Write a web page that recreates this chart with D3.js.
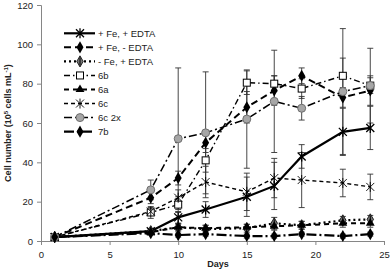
<!DOCTYPE html>
<html><head><meta charset="utf-8">
<script src="https://cdn.jsdelivr.net/npm/d3@7"></script>
<style>body{margin:0;background:#fff}svg{display:block}text{font-family:"Liberation Sans",Arial,sans-serif}</style>
</head><body>
<svg id="c" width="392" height="270"></svg>
<script>
const days = [1, 8, 10, 12, 15, 17, 19, 22, 24];
const xTicks = [0, 5, 10, 15, 20, 25];
const yTicks = [0, 20, 40, 60, 80, 100, 120];
const seriesNames = ["+ Fe, + EDTA", "+ Fe, - EDTA", "- Fe, + EDTA", "6b", "6a", "6c", "6c 2x", "7b"];
const vFePlusEdtaPlus  = [2, 5, 12, 16, 22.5, 28, 43, 55.5, 57.5];
const vFePlusEdtaMinus = [2, 22, 32, 50, 68, 76.5, 84, 73, 76.5];
const vFeMinusEdtaPlus = [2, 5, 7, 6, 6.5, 9, 8, 10.5, 11];
const v6b   = [2, 14.5, 18.5, 41, 80.5, 80, 77.5, 84, 79];
const v6a   = [2, 4.5, 7, 6.5, 7, 7.5, 8, 9, 9];
const v6c   = [2, 15, 22, 30, 25, 32, 31, 29.5, 27.5];
const v6c2x = [2, 26, 52, 55, 62, 71, 67.5, 76, 79];
const v7b   = [2, 4, 3, 3.5, 2.5, 2.5, 3.5, 2.5, 3.5];
const eFePlusEdtaPlus  = [0.5, 1, 3, 4, 10, 12, 6, 12, 11];
const eFePlusEdtaMinus = [0.5, 3, 3.5, 5, 8, 7.5, 4, 5, 7.5];
const eFeMinusEdtaPlus = [0.3, 1, 2, 2, 2, 3, 2, 2, 2];
const e6b   = [0.5, 3, 4, 6, 6, 4, 5, 9, 4];
const e6a   = [0.3, 1, 1.5, 1.5, 1.5, 2, 2, 2, 2];
const e6c   = [0.5, 2, 4, 8, 9.5, 10, 14, 7, 6.5];
const e6c2x = [0.5, 5, 36, 31, 25, 26, 6, 32, 19];
const e7b   = [0.3, 1, 1, 1, 1, 1, 1, 1, 1];

const styles = [
  {dash: null, w: 2.2, marker: "star", mw: 1.3},
  {dash: "7,4", w: 2, marker: "diamond"},
  {dash: "2,3", w: 2.2, marker: "phi"},
  {dash: "6,3,1.5,3", w: 1.4, marker: "square"},
  {dash: "5,4", w: 2, marker: "triangle"},
  {dash: "4,3", w: 1.4, marker: "star", mw: 0.9},
  {dash: "8,3,2,3", w: 1.5, marker: "circle"},
  {dash: "10,3,2,3", w: 2.2, marker: "diamond"}
];
const values = [vFePlusEdtaPlus, vFePlusEdtaMinus, vFeMinusEdtaPlus, v6b, v6a, v6c, v6c2x, v7b];
const errors = [eFePlusEdtaPlus, eFePlusEdtaMinus, eFeMinusEdtaPlus, e6b, e6a, e6c, e6c2x, e7b];

const svg = d3.select("#c");
const x = d3.scaleLinear().domain([0, 25]).range([41, 384]);
const y = d3.scaleLinear().domain([0, 120]).range([241, 5]);
const axisColor = "#868686";

// axes
const gx = svg.append("g").attr("transform", `translate(0,${y(0)})`)
  .call(d3.axisBottom(x).tickValues(xTicks).tickSize(4).tickPadding(6));
const gy = svg.append("g").attr("transform", `translate(${x(0)},0)`)
  .call(d3.axisLeft(y).tickValues(yTicks).tickSize(4).tickPadding(4));
[gx, gy].forEach(g => {
  g.select(".domain").attr("stroke", axisColor);
  g.selectAll(".tick line").attr("stroke", axisColor);
  g.selectAll("text").attr("font-size", 9.5).attr("fill", "#222")
    .style("font-family", "'Liberation Sans',Arial,sans-serif");
});

// markers
function marker(g, type, cx, cy, mw) {
  const s = g.append("g").attr("transform", `translate(${cx},${cy})`);
  if (type === "star") {
    s.append("path").attr("d", "M-4,-4L4,4M-4,4L4,-4M0,-5L0,5")
      .attr("stroke", "#000").attr("stroke-width", mw || 1).attr("fill", "none");
  } else if (type === "diamond") {
    s.append("path").attr("d", d3.symbol(d3.symbolDiamond, 42)()).attr("fill", "#000");
  } else if (type === "phi") {
    s.append("path").attr("d", d3.symbol(d3.symbolDiamond, 36)()).attr("fill", "#777").attr("stroke", "#000").attr("stroke-width", 0.8);
    s.append("path").attr("d", "M0,-4L0,4").attr("stroke", "#000").attr("stroke-width", 1);
  } else if (type === "square") {
    s.append("rect").attr("x", -3.5).attr("y", -3.5).attr("width", 7).attr("height", 7)
      .attr("fill", "#fff").attr("stroke", "#000").attr("stroke-width", 1);
  } else if (type === "triangle") {
    s.append("path").attr("d", d3.symbol(d3.symbolTriangle, 34)()).attr("fill", "#000");
  } else if (type === "circle") {
    s.append("circle").attr("r", 4).attr("fill", "#a6a6a6").attr("stroke", "#6f6f6f").attr("stroke-width", 1);
  }
}

const plot = svg.append("g");
// error bars
values.forEach((vals, i) => {
  vals.forEach((v, j) => {
    const e = errors[i][j];
    const xx = x(days[j]);
    const g = plot.append("g").attr("stroke", "#333").attr("stroke-width", 0.9);
    g.append("line").attr("x1", xx).attr("x2", xx).attr("y1", y(v - e)).attr("y2", y(v + e));
    g.append("line").attr("x1", xx - 3).attr("x2", xx + 3).attr("y1", y(v - e)).attr("y2", y(v - e));
    g.append("line").attr("x1", xx - 3).attr("x2", xx + 3).attr("y1", y(v + e)).attr("y2", y(v + e));
  });
});
// lines
const line = d3.line().x((d, j) => x(days[j])).y(d => y(d));
values.forEach((vals, i) => {
  plot.append("path").datum(vals).attr("d", line).attr("fill", "none")
    .attr("stroke", "#000").attr("stroke-width", styles[i].w)
    .attr("stroke-dasharray", styles[i].dash);
});
values.forEach((vals, i) => {
  vals.forEach((v, j) => marker(plot, styles[i].marker, x(days[j]), y(v), styles[i].mw));
});

// legend
const lg = svg.append("g");
seriesNames.forEach((name, i) => {
  const ly = 33.3 + i * 14.05;
  lg.append("line").attr("x1", 64).attr("x2", 95).attr("y1", ly).attr("y2", ly)
    .attr("stroke", "#000").attr("stroke-width", styles[i].w).attr("stroke-dasharray", styles[i].dash);
  marker(lg, styles[i].marker, 80, ly, styles[i].mw);
  lg.append("text").attr("x", 98).attr("y", ly + 3.3).attr("font-size", 9.5).attr("fill", "#222").text(name);
});

// axis titles
svg.append("text").attr("x", 218).attr("y", 267).attr("text-anchor", "middle")
  .attr("font-size", 9).attr("font-weight", "bold").attr("fill", "#222").text("Days");
const yt = svg.append("text").attr("transform", "translate(11,123) rotate(-90)").attr("text-anchor", "middle")
  .attr("font-size", 9).attr("font-weight", "bold").attr("fill", "#222");
yt.append("tspan").text("Cell number (10");
yt.append("tspan").attr("baseline-shift", "super").attr("font-size", 6).text("5");
yt.append("tspan").text(" cells mL");
yt.append("tspan").attr("baseline-shift", "super").attr("font-size", 6).text("-1");
yt.append("tspan").text(")");
</script>
</body></html>
